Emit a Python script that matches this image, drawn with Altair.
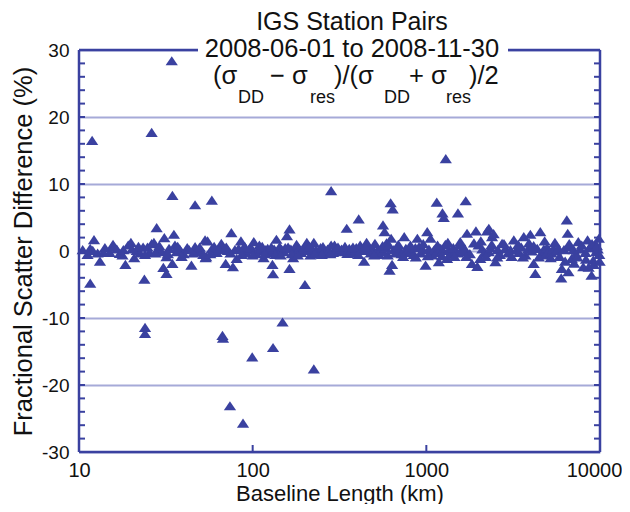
import altair as alt
import pandas as pd

# ---- data ----
baseline_km = [
    # outliers
    11.9, 26.2, 34.2, 34.5, 46.6, 58.2, 283, 1294, 623, 640, 1148, 1686, 1239, 1260, 1521, 408,
    24, 24, 67, 67.5, 148.6, 131, 99.4, 225, 74, 88, 11.6, 23.8, 200, 131, 28,
    # 10 - 55 km
    10.5, 11.2, 11.6, 12.2, 12.8, 13.2, 14.1, 15.0, 15.7, 16.5, 17.2, 18.0, 18.5, 19.2, 19.9,
    20.8, 21.5, 22.5, 23.4, 24.8, 25.5, 26.2, 27.0, 28.5, 29.9, 31.0, 31.9, 30.6, 31.9, 33.0,
    34.5, 35.2, 35.7, 36.5, 38.0, 40.0, 42.0, 44.4, 46.6, 48.5, 50.8, 53.2, 53.6,
    # 55 - 300 km
    55, 54, 58, 62, 66, 67.8, 69.9, 72, 75.4, 77, 79, 80.9, 83, 85.6, 88.2, 92, 95, 98,
    101.5, 104.7, 107, 109.3, 112, 115.6, 119, 122, 126, 130, 133, 137, 140, 143, 147, 151,
    154, 157.5, 163, 163, 166, 171, 175, 179, 185, 190, 196, 205, 210, 215, 220, 225, 232,
    239, 246, 254, 262, 270, 276, 283, 290, 296, 302,
    # 300 - 1700 km
    316, 325, 335, 348, 351, 360, 372, 385, 395, 416, 425, 438, 453, 465, 478, 490, 506,
    520, 535, 550, 563, 575, 563, 585, 600, 614, 627, 635, 650, 665, 680, 700, 720, 746,
    762, 780, 800, 820, 845, 865, 888, 908, 930, 955, 990, 1012, 1035, 1057, 1080, 1110,
    1145, 1180, 1210, 1250, 1287, 1316, 1350, 1390, 1430, 1480, 1520, 1568, 1600, 1639,
    # 1700 - 10000 km
    1660, 1715, 1780, 1830, 1930, 1967, 2000, 2045, 2100, 2170, 2240, 2290, 2290, 2340,
    2390, 2440, 2500, 2580, 2650, 2730, 2850, 2950, 3050, 3190, 3300, 3420, 3520, 3640,
    3720, 3850, 3970, 4050, 4150, 4240, 4350, 4530, 4640, 4750, 4850, 4950, 5100, 5250,
    5400, 5600, 5770, 5980, 6030, 6200, 6440, 6520, 6580, 6720, 6870, 7050, 7250, 7500,
    7700, 8010, 8250, 8480, 8700, 8940, 9140, 9340, 9500, 9700, 9900, 9850,
    # more of the dense band
    12.0, 13.8, 16.0, 17.8, 20.2, 22.0, 24.0, 27.5, 29.0, 32.5, 37.0, 39.0, 43.0, 45.5,
    49.5, 52.0, 57.0, 60.0, 64.0, 70.5, 74.5, 86.5, 90.0, 100.0, 113.5, 117.0, 128.0, 135.0,
    145.0, 160.0, 168.0, 182.0, 200.0, 212.0, 228.0, 250.0, 280.0, 310.0, 340.0, 378.0,
    405.0, 445.0, 500.0, 560.0, 590.0, 610.0, 690.0, 735.0, 810.0, 870.0, 960.0, 1020.0,
    1160.0, 1230.0, 1330.0, 1450.0, 1550.0, 1700.0, 1880.0, 2060.0, 2200.0, 2380.0, 2560.0,
    2800.0, 3100.0, 3380.0, 3600.0, 3900.0, 4150.0, 4450.0, 4800.0, 5200.0, 5500.0, 5850.0,
    6300.0, 6650.0, 7100.0, 7400.0, 7850.0, 8300.0, 8600.0, 9000.0, 9200.0, 9600.0, 9950.0,
]
frac_diff = [
    16.5, 17.7, 28.4, 8.3, 6.9, 7.6, 9.0, 13.8, 7.2, 6.3, 7.3, 7.5, 5.7, 5.0, 5.7, 4.8,
    -11.4, -12.3, -12.6, -13.0, -10.6, -14.4, -15.8, -17.6, -23.1, -25.7, -4.8, -4.2, -5.0, -3.4, 3.5,
    0.2, -0.5, 0.4, 1.7, -0.3, -1.5, 0.5, -0.2, 1.0, 0.3, -0.35, 0.2, -2.0, 0.9, 1.3,
    -1.0, 0.1, -0.3, 0.6, 0.6, -0.2, 1.1, 1.3, 0.3, -0.1, 2.0, -0.85, -2.45, -3.35, 0.4,
    -1.85, 2.5, 0.9, -0.1, 0.3, -0.4, 0.5, -2.1, 0.65, 0.1, -0.1, 1.65, -1.0,
    1.5, -0.85, 0.3, -0.2, 1.15, 0.4, -1.85, 0.1, 2.75, -2.35, 0.2, -1.1, 0.4, 1.5, 0.4, -0.3, 0.2, 0.5,
    1.4, -0.35, 0.1, 0.9, 0.3, -1.0, 0.2, 0.4, -0.2, -2.0, 0.3, 1.75, 0.0, 0.65, 0.2, -0.1,
    0.5, 2.3, 3.3, -2.6, 0.3, -1.0, 0.1, 1.0, 0.4, -0.2, 0.3, 1.3, 0.1, -0.6, 0.4, 1.3, 0.2,
    -0.1, 0.5, 0.65, -0.2, 0.3, 0.1, 0.9, -0.2, 0.9, 0.4,
    -0.1, 0.3, 0.1, 3.4, -0.35, 0.4, 0.2, -0.2, 0.5, 0.9, 0.1, -1.5, 1.3, 0.2, -0.3, 0.4, 1.15,
    0.0, -0.5, 0.3, 3.9, 2.9, -0.1, 0.5, -0.6, -2.85, 1.9, -2.0, 0.2, -0.3, 0.6, 0.1, -0.4, 2.15,
    0.4, -0.2, 0.3, 0.0, -0.5, 0.5, 1.9, 0.65, -0.3, 0.2, -2.1, 2.9, 0.3, 1.9, -0.6, 0.2,
    -0.2, -1.6, 0.4, 0.1, 1.0, -1.1, 0.2, -0.4, 0.5, 0.0, -0.3, 1.4, 0.2, -0.1,
    0.4, 2.65, -0.4, -1.85, 3.0, -2.3, 0.9, -1.1, 0.3, -0.2, 3.0, 3.4, -0.1, 0.5,
    2.15, 2.6, -1.6, 0.2, -0.5, 1.15, 0.4, -0.3, 0.2, 1.65, 0.15, -0.2, 0.6, 2.15,
    -0.6, 0.3, 2.5, 0.0, -1.85, -3.35, 0.4, 2.9, -0.35, 0.3, -0.6, 0.5, 0.1, -0.3,
    0.4, 0.0, 0.4, -4.0, -2.6, 0.2, 4.65, 2.65, -3.1, 0.65, -1.1, 0.2, -0.4, 1.4,
    0.3, -2.35, -0.2, 1.65, 0.5, -3.6, -1.35, 0.9, -0.1, 0.3, -0.5, 1.9,
    0.1, -0.2, 0.6, -0.6, 0.3, 0.7, -0.5, -0.3, 0.8, -0.4, 0.7, -0.8, 0.2, -0.3,
    0.6, -0.5, -0.4, 0.7, 0.2, 0.6, -0.3, -0.5, 0.7, -0.6, 0.7, -0.4, 0.6, -0.5,
    -0.6, 0.6, -0.4, -0.6, 0.6, 0.7, -0.4, -0.5, -0.4, 0.6, 0.7, 0.6,
    -0.5, 0.6, -0.6, 0.8, 1.2, 0.9, 1.0, -0.8, 0.9, -0.9, 1.1, -0.7,
    0.9, -0.7, 1.3, -0.8, 0.9, -0.8, 1.2, 1.5, -0.8, 1.0, -0.9,
    1.1, -0.8, 1.0, -0.9, 1.2, 0.8, -0.9, 1.5, -1.0, 1.3, -0.8,
    -1.5, 1.1, -1.8, -0.9, 0.9, -1.2, -2.4, 1.1, -2.0, 0.8, -1.5,
]

y_label_values = [-30, -20, -10, 0, 10, 20, 30]
y_minor_ticks = list(range(-30, 31, 2))
x_label_values = [10, 100, 1000, 10000]
x_inner_ticks = [100, 1000]

title_line1 = "IGS Station Pairs"
title_line2 = "2008-06-01 to 2008-11-30"
x_title = "Baseline Length (km)"
y_title = "Fractional Scatter Difference (%)"

FONT = "Liberation Sans"
NAVY = "#3a41a0"
GRID = "#a6aad8"
W, H = 521, 402

df = pd.DataFrame({"km": baseline_km, "diff": frac_diff})
one = pd.DataFrame({"k": [0]})

xscale = alt.Scale(type="log", domain=[10, 10000])
yscale = alt.Scale(domain=[-30, 30], nice=False)

points = alt.Chart(df).mark_point(
    shape="M-1,0.75H1L0,-0.75Z", filled=True, size=150, color=NAVY, opacity=1
).encode(
    x=alt.X("km:Q", scale=xscale, title=x_title,
            axis=alt.Axis(values=x_label_values, format="d", ticks=False, domain=False, grid=False,
                          labelFlush=False,
                          labelOffset={"condition": {"test": "datum.value >= 10000", "value": -6},
                                       "value": 0},
                          labelFont=FONT, labelFontSize=20, labelColor="#111", labelPadding=8,
                          titleFont=FONT, titleFontSize=22, titleFontWeight="normal",
                          titleColor="#111", titlePadding=3)),
    y=alt.Y("diff:Q", scale=yscale, title=y_title,
            axis=alt.Axis(values=y_label_values, ticks=False, domain=False, grid=True,
                          gridColor=GRID, gridWidth=2.2, labelExpr="'' + datum.value",
                          labelFont=FONT, labelFontSize=19, labelColor="#111", labelPadding=10,
                          titleFont=FONT, titleFontSize=25.5, titleFontWeight="normal",
                          titleColor="#111", titlePadding=5)),
)

# frame
frame_left = alt.Chart(one).mark_rule(color=NAVY, strokeWidth=2.5).encode(
    x=alt.value(0), y=alt.value(0), y2=alt.value(H))
frame_right = alt.Chart(one).mark_rule(color=NAVY, strokeWidth=2.5).encode(
    x=alt.value(W), y=alt.value(0), y2=alt.value(H))
frame_bottom = alt.Chart(one).mark_rule(color=NAVY, strokeWidth=2.5).encode(
    y=alt.value(H), x=alt.value(0), x2=alt.value(W))
frame_top = alt.Chart(one).mark_rule(color=NAVY, strokeWidth=2.5).encode(
    y=alt.value(0), x=alt.value(0), x2=alt.value(W))

# inward minor ticks on the y sides
ytick_df = pd.DataFrame({"t": y_minor_ticks})
ticks_left = alt.Chart(ytick_df).mark_rule(color=NAVY, strokeWidth=2).encode(
    y=alt.Y("t:Q", scale=yscale), x=alt.value(0), x2=alt.value(6))
ticks_right = alt.Chart(ytick_df).mark_rule(color=NAVY, strokeWidth=2).encode(
    y=alt.Y("t:Q", scale=yscale), x=alt.value(W - 6), x2=alt.value(W))
xtick_df = pd.DataFrame({"t": x_inner_ticks})
ticks_bottom = alt.Chart(xtick_df).mark_rule(color=NAVY, strokeWidth=2).encode(
    x=alt.X("t:Q", scale=xscale), y=alt.value(H - 7), y2=alt.value(H))

# title block
cover = alt.Chart(one).mark_rect(color="white").encode(
    x=alt.value(119), x2=alt.value(429), y=alt.value(-4), y2=alt.value(4))


def txt(s, x, y, size, align="left"):
    return alt.Chart(one).mark_text(
        text=s, font=FONT, fontSize=size, color="#111", align=align, baseline="alphabetic"
    ).encode(x=alt.value(x), y=alt.value(y))


t1 = txt(title_line1, 273, -20, 25, "center")
t2 = txt(title_line2, 273, 7, 25.5, "center")
MAIN, SUB = 25.5, 18
YM, YS = 34, 53
line3 = [
    txt("(σ", 134, YM, MAIN), txt("DD", 159, YS, SUB),
    txt("− σ", 191, YM, MAIN), txt("res", 231, YS, SUB),
    txt(")/(σ", 255, YM, MAIN), txt("DD", 305, YS, SUB),
    txt("+ σ", 330, YM, MAIN), txt("res", 367, YS, SUB),
    txt(")/2", 390, YM, MAIN),
]

chart = alt.layer(
    points, ticks_left, ticks_right, ticks_bottom,
    frame_left, frame_right, frame_bottom, frame_top,
    cover, t1, t2, *line3,
).properties(
    width=W, height=H,
    autosize=alt.AutoSizeParams(type="none"),
    padding={"left": 71, "top": 42, "right": 22, "bottom": 52},
).configure_view(stroke=None).configure(background="white")

chart.save("out.html", embed_options={"renderer": "svg", "actions": False})
